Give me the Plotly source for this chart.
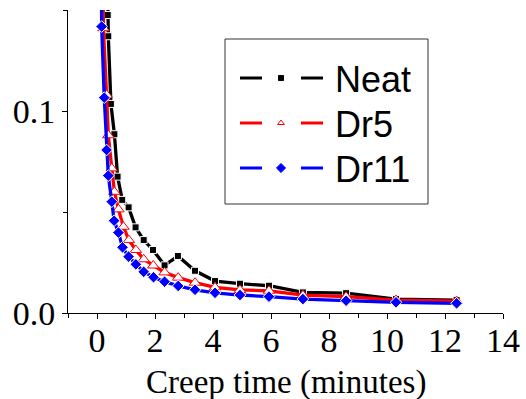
import plotly.graph_objects as go

# Creep time (minutes) and values
t_neat = [0.25, 0.37, 0.39, 0.48, 0.60, 0.71, 0.87, 1.09, 1.33, 1.61, 1.93, 2.33, 2.79, 3.38, 4.07, 4.93, 5.93, 7.10, 8.59, 10.31, 12.40]
v_neat = [0.30, 0.1475, 0.137, 0.1035, 0.0885, 0.0675, 0.056, 0.0523, 0.0424, 0.0361, 0.0312, 0.0236, 0.0282, 0.0209, 0.0158, 0.0145, 0.0135, 0.0102, 0.0098, 0.0069, 0.0064]

t_dr5 = [0.15, 0.22, 0.33, 0.39, 0.51, 0.60, 0.74, 0.91, 1.10, 1.34, 1.61, 1.94, 2.33, 2.80, 3.38, 4.07, 4.93, 5.93, 7.10, 8.59, 10.31, 12.40]
v_dr5 = [0.30, 0.141, 0.108, 0.088, 0.0716, 0.060, 0.0513, 0.0427, 0.0361, 0.0312, 0.0266, 0.0235, 0.0201, 0.0175, 0.0150, 0.0127, 0.0114, 0.0110, 0.0088, 0.0081, 0.0064, 0.0059]

t_dr11 = [0.12, 0.16, 0.25, 0.33, 0.39, 0.51, 0.59, 0.74, 0.88, 1.09, 1.34, 1.61, 1.95, 2.33, 2.80, 3.38, 4.07, 4.93, 5.93, 7.10, 8.59, 10.31, 12.40]
v_dr11 = [0.30, 0.1418, 0.1066, 0.0807, 0.068, 0.0551, 0.0457, 0.0398, 0.0325, 0.0279, 0.0241, 0.0204, 0.0177, 0.0155, 0.0134, 0.0115, 0.0100, 0.0089, 0.0081, 0.0069, 0.0061, 0.0053, 0.0048]

series_names = ["Neat", "Dr5", "Dr11"]
x_ticks = [0, 2, 4, 6, 8, 10, 12, 14]
y_ticks = [0.0, 0.1]
y_tick_labels = ["0.0", "0.1"]
x_title = "Creep time (minutes)"

# layout (pixels)
W, H = 526, 399
ML, MR, MT, MB = 68, 23, 10, 86
PW, PH = W - ML - MR, H - MT - MB

def px(xp):
    return (xp - ML) / PW

def py(yp):
    return (H - MB - yp) / PH

# color, symbol, size, legend size, fill, outline
styles = [
    ("black", "square", 7, 5, "black", "white"),
    ("red", "triangle-up", 10, 6, "white", "red"),
    ("blue", "diamond", 9, 7, "blue", "white"),
]
data = [(t_neat, v_neat), (t_dr5, v_dr5), (t_dr11, v_dr11)]

fig = go.Figure()
for name, (t, v), (col, sym, ms, lms, fill, mlc) in zip(series_names, data, styles):
    fig.add_trace(go.Scatter(
        x=t, y=v, mode="lines+markers", name=name, showlegend=False,
        line=dict(color=col, width=3.3),
        marker=dict(symbol=sym, size=ms, color=fill, line=dict(color=mlc, width=1)),
    ))

# hand-drawn legend (box, line pieces, markers, labels)
box = dict(x0=225, x1=428, y0=39, y1=204)
row_y = [78, 123, 168]
shapes = [dict(type="rect", xref="paper", yref="paper",
               x0=px(box["x0"]), x1=px(box["x1"]), y0=py(box["y1"]), y1=py(box["y0"]),
               line=dict(color="#333", width=1), fillcolor="white", layer="below")]
annotations = [dict(text=x_title, xref="paper", yref="paper", x=0.5, y=py(382),
                    xanchor="center", yanchor="middle", showarrow=False,
                    font=dict(family="Liberation Serif", size=33, color="black"))]
for name, (col, sym, ms, lms, fill, mlc), ry in zip(series_names, styles, row_y):
    for a, b in [(240, 262), (301, 323)]:
        shapes.append(dict(type="line", xref="paper", yref="paper",
                           x0=px(a), x1=px(b), y0=py(ry), y1=py(ry),
                           line=dict(color=col, width=3), layer="above"))
    annotations.append(dict(text=name, xref="paper", yref="paper",
                            x=px(333), y=py(ry + 1), xanchor="left", yanchor="middle",
                            showarrow=False,
                            font=dict(family="Liberation Sans", size=36, color="black")))
for name, (col, sym, ms, lms, fill, mlc), ry in zip(series_names, styles, row_y):
    fig.add_trace(go.Scatter(
        x=[px(281)], y=[py(ry)], xaxis="x2", yaxis="y2", mode="markers",
        showlegend=False, hoverinfo="skip",
        marker=dict(symbol=sym, size=lms, color=fill, line=dict(color=col, width=1)),
    ))

fig.update_layout(
    width=W, height=H,
    margin=dict(l=ML, r=MR, t=MT, b=MB),
    paper_bgcolor="white", plot_bgcolor="white",
    font=dict(family="Liberation Serif", color="black", size=34),
    showlegend=False,
    shapes=shapes, annotations=annotations,
    xaxis=dict(
        range=[-1, 14], tickvals=x_ticks, ticktext=[str(v) for v in x_ticks],
        ticks="outside", ticklen=5, tickwidth=1, tickcolor="black",
        minor=dict(dtick=1, tick0=-1, ticks="outside", ticklen=4, tickcolor="black"),
        showline=True, linecolor="black", linewidth=1, showgrid=False, zeroline=False,
        tickfont=dict(size=34), automargin=False, ticklabelstandoff=-8,
    ),
    yaxis=dict(
        range=[0, 0.15], tickvals=y_ticks, ticktext=y_tick_labels,
        ticks="outside", ticklen=5, tickwidth=1, tickcolor="black",
        minor=dict(dtick=0.05, tick0=0, ticks="outside", ticklen=4, tickcolor="black"),
        showline=True, linecolor="black", linewidth=1, showgrid=False, zeroline=False,
        tickfont=dict(size=34), automargin=False,
    ),
    xaxis2=dict(range=[0, 1], overlaying="x", visible=False, fixedrange=True),
    yaxis2=dict(range=[0, 1], overlaying="y", visible=False, fixedrange=True),
)

fig.write_html("out.html")
